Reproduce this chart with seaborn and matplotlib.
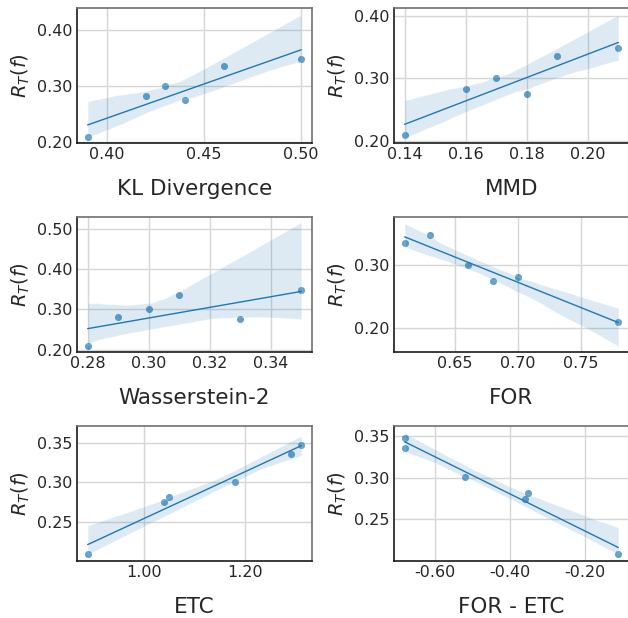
import numpy as np
import pandas as pd
import matplotlib
matplotlib.use("Agg")
import matplotlib.pyplot as plt
import seaborn as sns
from matplotlib.ticker import FormatStrFormatter

# Data (six models)
risk = [0.209, 0.282, 0.301, 0.275, 0.336, 0.348]
kl = [0.39, 0.42, 0.43, 0.44, 0.46, 0.50]
mmd = [0.14, 0.16, 0.17, 0.18, 0.19, 0.21]
w2 = [0.28, 0.29, 0.30, 0.33, 0.31, 0.35]
for_vals = [0.78, 0.70, 0.66, 0.68, 0.61, 0.63]
etc = [0.89, 1.05, 1.18, 1.04, 1.29, 1.31]
for_minus_etc = [-0.11, -0.35, -0.52, -0.36, -0.68, -0.68]

xlabels = ["KL Divergence", "MMD", "Wasserstein-2", "FOR", "ETC", "FOR - ETC"]
xseries = [kl, mmd, w2, for_vals, etc, for_minus_etc]
xticks = [[0.40, 0.45, 0.50], [0.14, 0.16, 0.18, 0.20], [0.28, 0.30, 0.32, 0.34],
          [0.65, 0.70, 0.75], [1.00, 1.20], [-0.60, -0.40, -0.20]]
yticks = [[0.20, 0.30, 0.40], [0.20, 0.30, 0.40], [0.20, 0.30, 0.40, 0.50],
          [0.20, 0.30], [0.25, 0.30, 0.35], [0.25, 0.30, 0.35]]
xlims = [(0.3845, 0.5056), (0.1365, 0.2135), (0.2765, 0.3535),
         (0.6015, 0.7885), (0.869, 1.331), (-0.7085, -0.0815)]
ylims = [(0.199, 0.439), (0.196, 0.413), (0.194, 0.530),
         (0.162, 0.377), (0.1998, 0.372), (0.200, 0.362)]

sns.set_style("whitegrid")
plt.rcParams["font.family"] = ["DejaVu Sans"]

fig = plt.figure(figsize=(6.28, 6.18), dpi=100)
W, H = 628.0, 618.0
lefts = [77, 394]
tops = [8, 217, 426]
aw, ah = 235, 135

blue = "#1f77b4"
for i in range(6):
    r, c = divmod(i, 2)
    l = lefts[c]
    t = tops[r]
    ax = fig.add_axes([l / W, 1 - (t + ah) / H, aw / W, ah / H])
    df = pd.DataFrame({"x": xseries[i], "y": risk})
    sns.regplot(data=df, x="x", y="y", ax=ax, color=blue, ci=95, seed=3,
                scatter_kws={"s": 26, "alpha": 0.7, "linewidths": 0},
                line_kws={"linewidth": 1.0})
    ax.set_xlim(*xlims[i])
    ax.set_ylim(*ylims[i])
    ax.set_xticks(xticks[i])
    ax.set_yticks(yticks[i])
    ax.xaxis.set_major_formatter(FormatStrFormatter("%.2f"))
    ax.yaxis.set_major_formatter(FormatStrFormatter("%.2f"))
    ax.tick_params(axis="both", labelsize=11.5, colors="#262626", length=0, pad=3)
    ax.set_xlabel(xlabels[i], fontsize=15.5, color="#262626", labelpad=12)
    ax.set_ylabel(r"$R_T(f)$", fontsize=14, color="#262626", labelpad=4)
    ax.grid(True, color="#d6d6d6", linewidth=1.0)
    for side in ["left", "bottom"]:
        ax.spines[side].set_color("#1a1a1a")
        ax.spines[side].set_linewidth(1.2)
    for side in ["top", "right"]:
        ax.spines[side].set_color("#707070")
        ax.spines[side].set_linewidth(1.2)

fig.savefig("out.png", dpi=100)
